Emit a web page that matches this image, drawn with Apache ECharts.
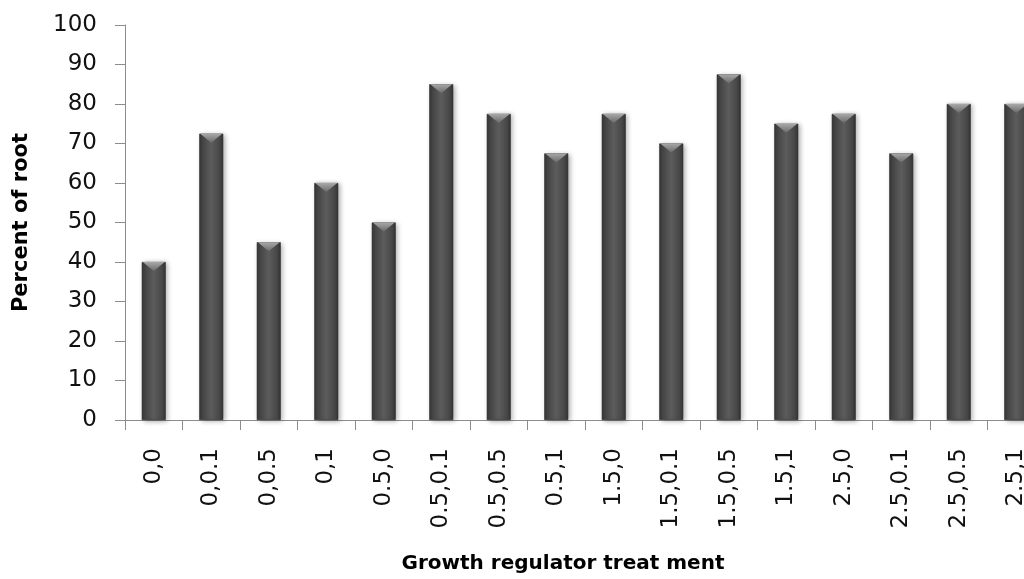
<!DOCTYPE html>
<html>
<head>
<meta charset="utf-8">
<script src="https://cdn.jsdelivr.net/npm/echarts@6/dist/echarts.min.js"></script>
<style>
  html, body { margin: 0; padding: 0; background: #fff; }
  #chart { width: 1024px; height: 579px; }
</style>
</head>
<body>
<div id="chart"></div>
<script>
// Treatment combinations on the category axis
const categories = ['0,0', '0,0.1', '0,0.5', '0,1', '0.5,0', '0.5,0.1', '0.5,0.5', '0.5,1',
  '1.5,0', '1.5,0.1', '1.5,0.5', '1.5,1', '2.5,0', '2.5,0.1', '2.5,0.5', '2.5,1'];
// Rooting percentage per treatment
const rootPercent = [40, 72.5, 45, 60, 50, 85, 77.5, 67.5, 77.5, 70, 87.5, 75, 77.5, 67.5, 80, 80];
// Value axis range and step
const yMin = 0, yMax = 100, yStep = 10;

const FONT = '"DejaVu Sans", sans-serif';
const chart = echarts.init(document.getElementById('chart'));

const barFill = new echarts.graphic.LinearGradient(0, 0, 1, 0, [
  { offset: 0, color: '#363636' },
  { offset: 0.15, color: '#474747' },
  { offset: 0.5, color: '#5c5c5c' },
  { offset: 0.85, color: '#474747' },
  { offset: 1, color: '#333333' }
]);
const capFill = new echarts.graphic.LinearGradient(0, 0, 0, 1, [
  { offset: 0, color: '#a8a8a8' },
  { offset: 1, color: '#6a6a6a' }
]);

chart.setOption({
  animation: false,
  backgroundColor: '#ffffff',
  grid: { left: 125, top: 25, width: 920, height: 395, outerBoundsMode: 'none', containLabel: false },
  xAxis: {
    type: 'category',
    data: categories,
    name: 'Growth regulator treat ment',
    nameLocation: 'middle',
    nameGap: 134,
    nameTextStyle: { fontFamily: FONT, fontWeight: 'bold', fontSize: 20, color: '#000', padding: [0, 44, 0, 0] },
    axisLine: { lineStyle: { color: '#8c8c8c', width: 1 } },
    axisTick: { show: true, length: 10, lineStyle: { color: '#8c8c8c' } },
    axisLabel: { rotate: 90, margin: 28, fontFamily: FONT, fontSize: 23, color: '#111', interval: 0 }
  },
  yAxis: {
    type: 'value',
    min: yMin, max: yMax, interval: yStep,
    name: 'Percent of root',
    nameLocation: 'middle',
    nameGap: 93,
    nameRotate: 90,
    nameTextStyle: { fontFamily: FONT, fontWeight: 'bold', fontSize: 21, color: '#000' },
    axisLine: { show: true, lineStyle: { color: '#8c8c8c', width: 1 } },
    axisTick: { show: true, length: 10, lineStyle: { color: '#8c8c8c' } },
    axisLabel: { margin: 28, fontFamily: FONT, fontSize: 23, color: '#111' },
    splitLine: { show: false }
  },
  series: [
    {
      type: 'bar',
      data: rootPercent,
      barWidth: 24,
      itemStyle: {
        color: barFill,
        borderColor: '#2e2e2e',
        borderWidth: 0.6,
        shadowBlur: 5,
        shadowColor: 'rgba(0,0,0,0.35)',
        shadowOffsetX: 2,
        shadowOffsetY: 1
      },
      z: 2
    },
    {
      type: 'pictorialBar',
      data: rootPercent,
      barGap: '-100%',
      symbol: 'path://M0,0 L24,0 L12,8 Z',
      symbolSize: [22, 9],
      symbolPosition: 'end',
      symbolOffset: [0, 0],
      itemStyle: { color: capFill },
      z: 3,
      silent: true
    }
  ]
});
</script>
</body>
</html>
